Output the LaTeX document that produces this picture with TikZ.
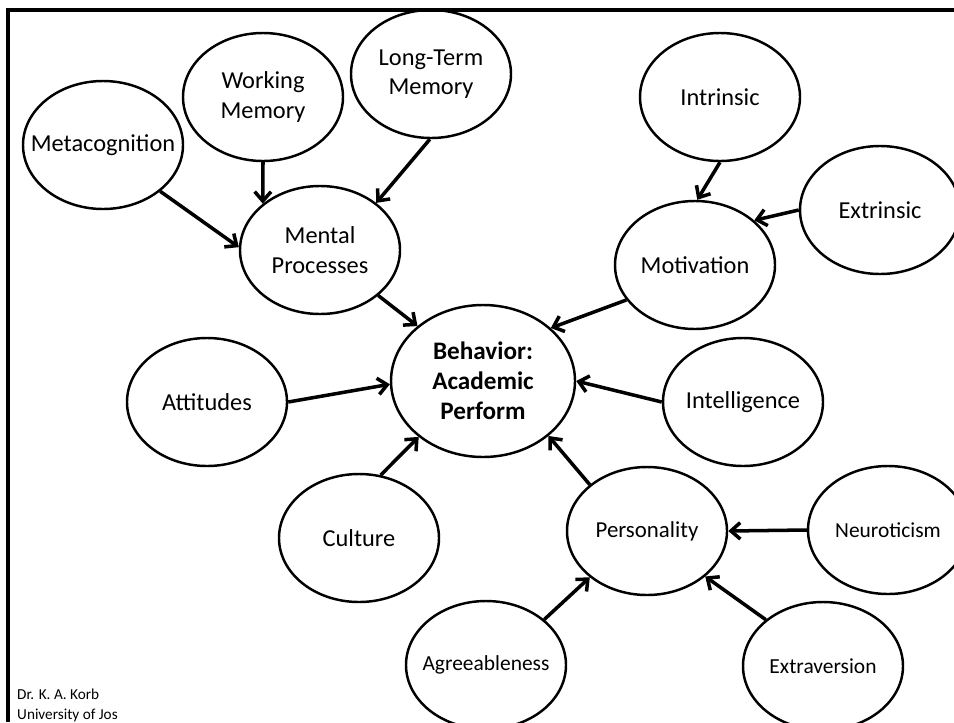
\documentclass[tikz,border=0pt]{standalone}
\usepackage{fontspec}
\setmainfont{Carlito}
\usetikzlibrary{shapes.geometric,arrows.meta}

\begin{document}
\begin{tikzpicture}[x=0.03cm,y=-0.03cm,
  bub/.style={draw,ellipse,line width=2.1pt,minimum width=4.8cm,minimum height=3.84cm,inner xsep=-0.7cm,inner ysep=0pt,align=center,font=\fontsize{20.8}{25}\selectfont},
  small/.style={font=\fontsize{18.3}{22}\selectfont},
  arr/.style={line width=3pt,-{Straight Barb[length=8pt,width=14pt]}}]
\useasboundingbox (0,0) rectangle (954,722);
\draw[line width=2.6pt] (954,10)--(8,10)--(8,722);

\foreach \pos/\name/\txt in {{(103,145)/meta/Metacognition},{(263,97)/work/{Working\\Memory}},{(431,74)/longterm/{Long-Term\\Memory}},{(320,250)/mental/{Mental\\Processes}},{(720,97)/intr/Intrinsic},{(880,210)/extr/Extrinsic},{(695,265)/motiv/Motivation},{(207,402)/att/Attitudes},{(359,538)/cult/Culture},{(743,402)/intel/Intelligence}} \node[bub] (\name) at \pos {\txt};

\node[bub,minimum width=5.52cm,minimum height=4.56cm,font=\fontsize{21.5}{25.5}\selectfont\bfseries] (behav) at (483,381) {Behavior:\\Academic\\Perform};
\node[bub,font=\fontsize{19.5}{23}\selectfont] (pers) at (647,531) {Personality};
\node[bub,small] (neuro) at (888,530) {Neuroticism};
\node[bub,small] (agree) at (486,665) {Agreeableness};
\node[bub,small] (extra) at (823,666) {Extraversion};

\foreach \a/\b in {meta.-39/mental.178,work.-90/mental.141,longterm.-91/mental.40,mental.-38/behav.140,intr.-90/motiv.88,extr.180/motiv.37,motiv.207/behav.38,att.0/behav.182,cult.71/behav.221,intel.180/behav.0,pers.141/behav.-40,neuro.180/pers.0,agree.38/pers.219,extra.141/pers.-38} \draw[arr] (\a) -- (\b);

\node[anchor=south west,align=left,inner sep=0pt,font=\fontsize{13}{16.5}\selectfont] (credit) at (17,722) {Dr. K. A. Korb\\University of Jos};
\end{tikzpicture}
\end{document}
